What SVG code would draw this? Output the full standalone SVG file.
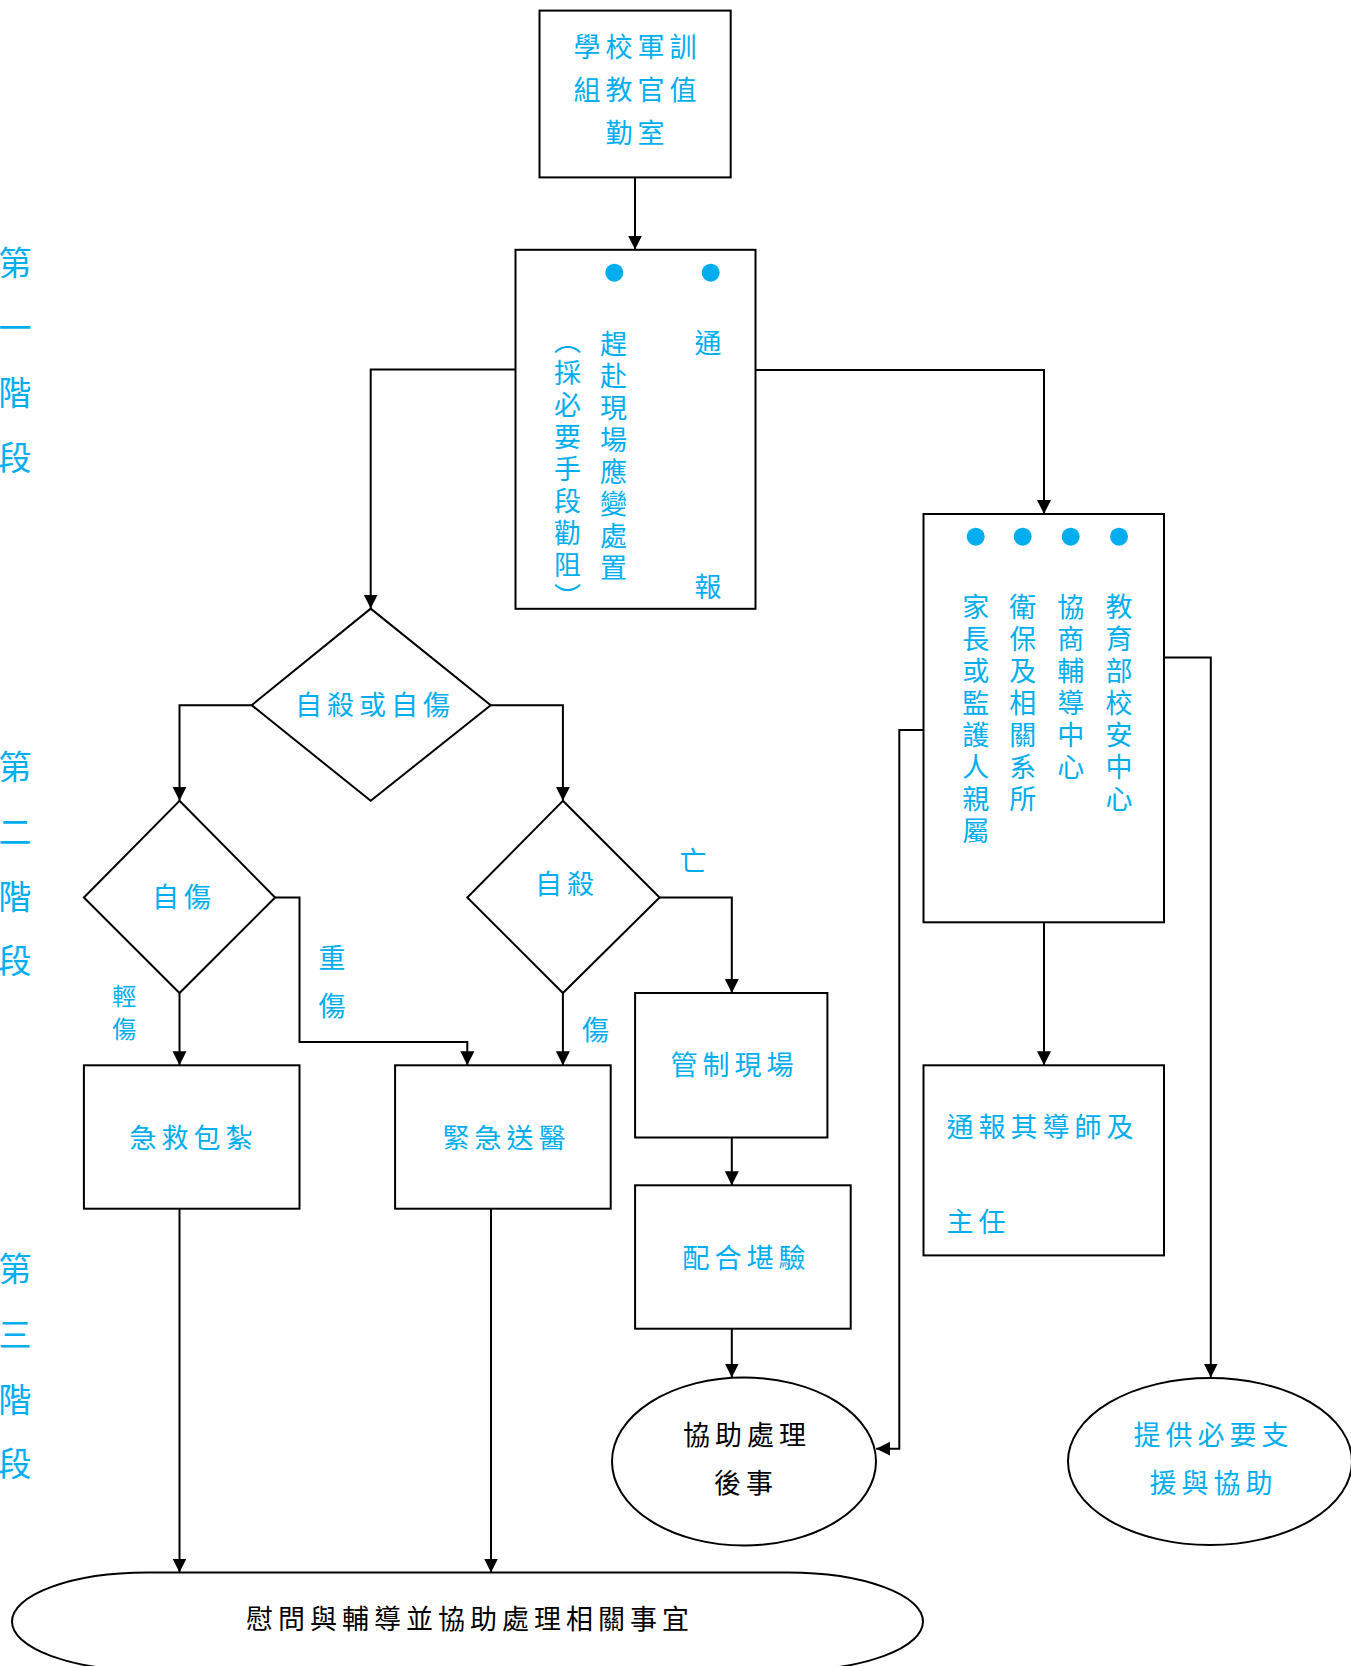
<svg xmlns="http://www.w3.org/2000/svg" width="1351" height="1666" viewBox="0 0 1351 1666">
<style>
.t{font-family:"Noto Sans CJK TC","Noto Sans CJK SC",sans-serif;font-size:27px;fill:#00AEEF;letter-spacing:5px;text-anchor:middle;dominant-baseline:central}
.k{fill:#000}
.v{writing-mode:vertical-rl;text-anchor:start;dominant-baseline:auto}
.st{font-size:33px;letter-spacing:0}
.sm{font-size:24px;letter-spacing:0}
.n{fill:#fff;stroke:#000;stroke-width:2}
.c{fill:none;stroke:#000;stroke-width:2;marker-end:url(#ah)}
.d{fill:#00AEEF}
</style>
<defs>
<marker id="ah" markerUnits="userSpaceOnUse" markerWidth="14" markerHeight="16" refX="14" refY="7" orient="auto">
<path d="M0,0 L14,7 L0,14 Z" fill="#000"/>
</marker>
</defs>
<rect width="1351" height="1666" fill="#fff"/>

<g id="stages">
<text class="t st" x="15 15 15 15" y="261 326 391 456">第一階段</text>
<text class="t st" x="15 15 15 15" y="765 830 895 959">第二階段</text>
<text class="t st" x="15 15 15 15" y="1267 1333 1398 1462">第三階段</text>
</g>

<g id="connectors">
<path class="c" d="M635,177.4 V249.6"/>
<path class="c" d="M515.5,369.6 H370.7 V608.6"/>
<path class="c" d="M755.5,370 H1044 V514"/>
<path class="c" d="M251.7,705.2 H179.5 V800.8"/>
<path class="c" d="M490.7,705.2 H562.9 V800.8"/>
<path class="c" d="M179.5,993 V1065.3"/>
<path class="c" d="M275.1,897.5 H299.5 V1042 H467.3 V1065.3"/>
<path class="c" d="M562.9,993 V1065.3"/>
<path class="c" d="M659.6,897.5 H731.8 V993"/>
<path class="c" d="M731.8,1137.5 V1185.3"/>
<path class="c" d="M731.8,1328.7 V1377.5"/>
<path class="c" d="M923.5,730 H899.3 V1448.7 H876.2"/>
<path class="c" d="M1044,922.3 V1065.3"/>
<path class="c" d="M1164,657.4 H1210.8 V1377.5"/>
<path class="c" d="M179.5,1208.7 V1572.5"/>
<path class="c" d="M491,1208.7 V1572.5"/>
</g>

<g id="duty-room">
<rect class="n" x="539.5" y="10.6" width="191.2" height="166.8"/>
<text class="t" x="637.5" y="45.7">學校軍訓</text>
<text class="t" x="637.5" y="88.2">組教官值</text>
<text class="t" x="637.5" y="131.7">勤室</text>
</g>

<g id="response">
<rect class="n" x="515.5" y="249.8" width="240" height="359"/>
<circle class="d" cx="614.3" cy="272.7" r="9"/>
<circle class="d" cx="710.7" cy="272.7" r="9"/>
<text class="t v" x="613.6" y="330">趕赴現場應變處置</text>
<text class="t v" x="567.5" y="327">（採必要手段勸阻）</text>
<text class="t" x="710.5" y="341.7">通</text>
<text class="t" x="710.5" y="585">報</text>
</g>

<g id="notify">
<rect class="n" x="923.5" y="514" width="240.5" height="408.3"/>
<circle class="d" cx="975.7" cy="536.7" r="9"/>
<circle class="d" cx="1022.7" cy="536.7" r="9"/>
<circle class="d" cx="1070.7" cy="536.7" r="9"/>
<circle class="d" cx="1119" cy="536.7" r="9"/>
<text class="t v" x="1119" y="593">教育部校安中心</text>
<text class="t v" x="1070.7" y="593">協商輔導中心</text>
<text class="t v" x="1022.7" y="593">衛保及相關系所</text>
<text class="t v" x="975.7" y="593">家長或監護人親屬</text>
</g>

<g id="decision-main">
<polygon class="n" points="370.7,608.6 490.7,705.2 370.7,800.8 251.7,705.2"/>
<text class="t" x="375" y="703">自殺或自傷</text>
</g>

<g id="decision-selfharm">
<polygon class="n" points="179.5,800.8 275.1,897.5 179.5,993 83.9,897.5"/>
<text class="t" x="184" y="895">自傷</text>
</g>

<g id="decision-suicide">
<polygon class="n" points="562.9,800.8 659.6,897.5 562.9,993 467.3,897.5"/>
<text class="t" x="567" y="882.6">自殺</text>
</g>

<g id="edge-labels">
<text class="t sm" x="124.3" y="994">輕</text>
<text class="t sm" x="124.3" y="1027">傷</text>
<text class="t" x="334.6" y="956">重</text>
<text class="t" x="334.6" y="1004.5">傷</text>
<text class="t" x="598" y="1028">傷</text>
<text class="t" x="695.5" y="859">亡</text>
</g>

<g id="first-aid">
<rect class="n" x="83.9" y="1065.3" width="215.6" height="143.4"/>
<text class="t" x="193.5" y="1136.5">急救包紮</text>
</g>

<g id="hospital">
<rect class="n" x="395.1" y="1065.3" width="215.6" height="143.4"/>
<text class="t" x="506.5" y="1136.5">緊急送醫</text>
</g>

<g id="control-scene">
<rect class="n" x="635.1" y="993" width="192.3" height="144.5"/>
<text class="t" x="734.5" y="1063.2">管制現場</text>
</g>

<g id="inspection">
<rect class="n" x="635.1" y="1185.3" width="215.6" height="143.4"/>
<text class="t" x="746.5" y="1256.5">配合堪驗</text>
</g>

<g id="funeral">
<ellipse class="n" cx="744" cy="1461.5" rx="132" ry="84"/>
<text class="t k" x="747" y="1433.8">協助處理</text>
<text class="t k" x="746" y="1481.6">後事</text>
</g>

<g id="tutor">
<rect class="n" x="923.5" y="1065.3" width="240.5" height="190.1"/>
<text class="t" x="946.5" y="1125" style="text-anchor:start">通報其導師及</text>
<text class="t" x="946.5" y="1220" style="text-anchor:start">主任</text>
</g>

<g id="support">
<ellipse class="n" cx="1210" cy="1461.5" rx="142" ry="83.5"/>
<text class="t" x="1213.5" y="1433.8">提供必要支</text>
<text class="t" x="1213.5" y="1481.6">援與協助</text>
</g>

<g id="counsel">
<path class="n" d="M147,1572.5 H788 A135,49 0 0 1 923,1621.5 A135,49 0 0 1 788,1670.5 H147 A135,49 0 0 1 12,1621.5 A135,49 0 0 1 147,1572.5 Z"/>
<text class="t k" x="470" y="1617">慰問與輔導並協助處理相關事宜</text>
</g>
</svg>
